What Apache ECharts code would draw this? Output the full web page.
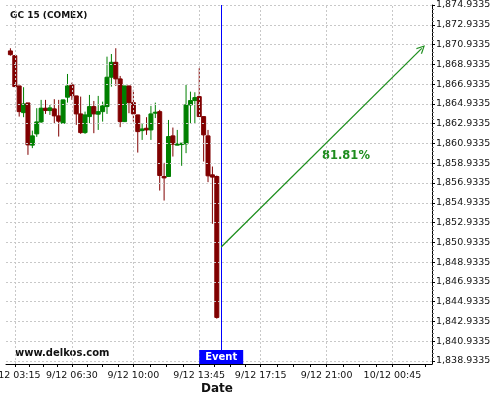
<!DOCTYPE html>
<html>
<head>
<meta charset="utf-8">
<title>GC 15 (COMEX)</title>
<script src="https://cdn.jsdelivr.net/npm/echarts@6/dist/echarts.min.js"></script>
<style>
	html, body { margin: 0; padding: 0; background: #fff; }
	#chart { width: 500px; height: 400px; }
</style>
</head>
<body>
<div id="chart"></div>
<script>
	// 15 minute candles
	var candleTimes = [
		'9/12 03:00', '9/12 03:15', '9/12 03:30', '9/12 03:45', '9/12 04:00', '9/12 04:15', '9/12 04:30', '9/12 04:45',
		'9/12 05:00', '9/12 05:15', '9/12 05:30', '9/12 05:45', '9/12 06:00', '9/12 06:15', '9/12 06:30', '9/12 06:45',
		'9/12 07:00', '9/12 07:15', '9/12 07:30', '9/12 07:45', '9/12 08:00', '9/12 08:15', '9/12 08:30', '9/12 08:45',
		'9/12 09:00', '9/12 09:15', '9/12 09:30', '9/12 09:45', '9/12 10:00', '9/12 10:15', '9/12 10:30', '9/12 10:45',
		'9/12 11:00', '9/12 11:15', '9/12 11:30', '9/12 11:45', '9/12 12:00', '9/12 12:15', '9/12 12:30', '9/12 12:45',
		'9/12 13:00', '9/12 13:15', '9/12 13:30', '9/12 13:45', '9/12 14:00', '9/12 14:15', '9/12 14:30', '9/12 14:45'
	]
	var openData = [
		1870.29, 1869.81, 1866.75, 1864.05, 1865.03, 1860.76, 1861.90, 1863.11, 1864.50, 1864.26,
		1864.43, 1863.72, 1862.98, 1865.61, 1866.85, 1865.74, 1863.92, 1862.03, 1863.65, 1864.66,
		1863.89, 1864.15, 1864.66, 1867.63, 1869.14, 1867.46, 1863.14, 1866.75, 1865.06, 1863.82,
		1862.23, 1862.47, 1862.30, 1863.99, 1864.15, 1857.59, 1857.59, 1861.70, 1860.76, 1860.82,
		1860.89, 1864.83, 1865.27, 1865.67, 1863.65, 1861.70, 1857.76, 1857.59
	]
	var closeData = [
		1869.91, 1866.68, 1864.15, 1864.93, 1860.79, 1861.70, 1863.11, 1864.50, 1864.26, 1864.53,
		1863.72, 1863.18, 1865.34, 1866.75, 1865.77, 1863.92, 1862.03, 1863.82, 1864.66, 1863.92,
		1864.15, 1864.73, 1867.63, 1869.14, 1867.46, 1863.14, 1866.75, 1865.06, 1863.92, 1862.13,
		1862.40, 1862.30, 1863.92, 1864.09, 1857.69, 1857.45, 1861.63, 1860.86, 1860.89, 1860.96,
		1864.83, 1865.27, 1865.57, 1863.65, 1861.80, 1857.66, 1857.53, 1843.34
	]
	var lowData = [
		1869.81, 1866.65, 1863.65, 1863.59, 1859.78, 1860.46, 1861.60, 1863.01, 1863.92, 1863.82,
		1862.98, 1861.63, 1862.91, 1865.06, 1865.34, 1862.81, 1861.90, 1861.90, 1862.98, 1861.97,
		1862.30, 1863.14, 1863.92, 1866.68, 1866.75, 1862.58, 1863.11, 1863.99, 1863.14, 1860.01,
		1861.29, 1861.80, 1861.29, 1863.50, 1856.17, 1855.16, 1857.55, 1859.61, 1860.76, 1858.67,
		1859.95, 1862.98, 1862.98, 1863.65, 1859.10, 1857.02, 1852.81, 1843.21
	]
	var highData = [
		1870.56, 1869.88, 1866.75, 1866.62, 1865.03, 1862.23, 1864.50, 1865.34, 1865.34, 1864.83,
		1865.41, 1865.34, 1865.34, 1867.96, 1867.08, 1865.74, 1865.67, 1864.15, 1865.84, 1865.23,
		1865.74, 1865.16, 1869.71, 1869.98, 1870.56, 1867.76, 1866.75, 1866.75, 1866.35, 1863.82,
		1862.98, 1863.59, 1864.73, 1865.06, 1864.33, 1858.97, 1863.31, 1862.54, 1862.30, 1860.96,
		1866.85, 1866.17, 1866.11, 1868.54, 1863.65, 1862.30, 1858.60, 1857.69
	]

	// axes
	var xTickLabels = ['9/12 03:15', '9/12 06:30', '9/12 10:00', '9/12 13:45', '9/12 17:15', '9/12 21:00', '10/12 00:45']
	var xRange = ['9/12 02:45', '10/12 03:00']
	var yTickLabels = [
		1838.9335, 1840.9335, 1842.9335, 1844.9335, 1846.9335, 1848.9335, 1850.9335,
		1852.9335, 1854.9335, 1856.9335, 1858.9335, 1860.9335, 1862.9335, 1864.9335,
		1866.9335, 1868.9335, 1870.9335, 1872.9335, 1874.9335
	]
	var yRange = [1838.63, 1874.9335]

	// event and projection
	var eventTime = '9/12 15:00'
	var arrowFrom = ['9/12 15:00', 1850.47]
	var arrowTo = ['10/12 02:25', 1870.55]
	var arrowText = '81.81%'

	// "9/12 03:15" -> minutes since 9/12 00:00
	function toMin(s) {
		var p = s.split(' ')
		var day = parseInt(p[0].split('/')[0], 10)
		var hm = p[1].split(':')
		return (day - 9) * 1440 + parseInt(hm[0], 10) * 60 + parseInt(hm[1], 10)
	}

	function fmtPrice(v) {
		var best = yTickLabels[0]
		yTickLabels.forEach(function (t) { if (Math.abs(t - v) < Math.abs(best - v)) best = t })
		var s = best.toFixed(4).split('.')
		return s[0].replace(/\B(?=(\d{3})+(?!\d))/g, ',') + '.' + s[1]
	}

	var xTicks = xTickLabels.map(toMin)
	// minor ticks: quarters of each label interval
	var xMinor = []
	for (var i = 0; i < xTicks.length; i++) {
		var a = xTicks[i]
		var b = i < xTicks.length - 1 ? xTicks[i + 1] : a + (a - xTicks[i - 1])
		for (var k = 1; k < 4; k++) xMinor.push(a + (b - a) * k / 4)
	}
	var yMinor = []
	for (var j = 0; j < yTickLabels.length - 1; j++) {
		for (var m = 1; m < 5; m++) yMinor.push(yTickLabels[j] + (yTickLabels[j + 1] - yTickLabels[j]) * m / 5)
	}

	var candleData = candleTimes.map(function (t, i) {
		return [toMin(t), openData[i], closeData[i], lowData[i], highData[i]]
	})

	var font = 'DejaVu Sans'
	var arrowHead = 'path://M5,0 L10,8 L9,9 L5,2.5 L1,9 L0,8 Z'

	// dashed grid as mark lines
	var gridMarks = []
	xTicks.forEach(function (v) { gridMarks.push({ xAxis: v }) })
	yTickLabels.forEach(function (v) { gridMarks.push({ yAxis: v }) })

	function renderCandle(params, api) {
		var t = api.value(0)
		var o = api.coord([t, api.value(1)])
		var c = api.coord([t, api.value(2)])
		var l = api.coord([t, api.value(3)])
		var h = api.coord([t, api.value(4)])
		var color = api.value(2) >= api.value(1) ? '#008000' : '#800000'
		var w = 4
		var top = Math.min(o[1], c[1])
		var bot = Math.max(o[1], c[1])
		return {
			type: 'group',
			children: [{
				type: 'line',
				shape: { x1: h[0], y1: h[1], x2: l[0], y2: l[1] },
				style: { stroke: color, lineWidth: 1 }
			}, {
				type: 'rect',
				shape: { x: o[0] - w / 2, y: top, width: w, height: Math.max(bot - top, 0.5) },
				style: { fill: color, stroke: color, lineWidth: 1 }
			}]
		}
	}

	var chart = echarts.init(document.getElementById('chart'))
	var option = {
		animation: false,
		grid: { left: 6, right: 68, top: 5, bottom: 36, outerBoundsMode: 'none', containLabel: false },
		xAxis: [{
			type: 'value',
			min: toMin(xRange[0]),
			max: toMin(xRange[1]),
			interval: 15,
			position: 'bottom',
			axisLine: { onZero: false, lineStyle: { color: '#000', width: 1 } },
			axisTick: { customValues: xTicks, length: 3, lineStyle: { color: '#000' } },
			axisLabel: {
				customValues: xTicks,
				margin: 7,
				color: '#111',
				fontFamily: font,
				fontSize: 9.5,
				formatter: function (v) {
					var idx = xTicks.indexOf(v)
					return idx >= 0 ? xTickLabels[idx] : ''
				}
			},
			splitLine: { show: false }
		}, {
			type: 'value',
			min: toMin(xRange[0]),
			max: toMin(xRange[1]),
			interval: 15,
			position: 'bottom',
			axisLine: { show: false, onZero: false },
			axisTick: { customValues: xMinor, length: 3, lineStyle: { color: '#000' } },
			axisLabel: { show: false },
			splitLine: { show: false }
		}],
		yAxis: [{
			type: 'value',
			position: 'right',
			min: yRange[0],
			max: yRange[1],
			interval: yRange[1] - yRange[0],
			axisLine: { show: true, onZero: false, lineStyle: { color: '#000', width: 1 } },
			axisTick: { show: true, customValues: yTickLabels, length: 3, lineStyle: { color: '#000' } },
			axisLabel: {
				customValues: yTickLabels,
				margin: 4,
				color: '#111',
				fontFamily: font,
				fontSize: 9.5,
				formatter: fmtPrice
			},
			splitLine: { show: false }
		}, {
			type: 'value',
			position: 'right',
			min: yRange[0],
			max: yRange[1],
			interval: yRange[1] - yRange[0],
			axisLine: { show: false, onZero: false },
			axisTick: { show: true, customValues: yMinor, length: 2, lineStyle: { color: '#777' } },
			axisLabel: { show: false },
			splitLine: { show: false }
		}],
		series: [{
			// grid
			type: 'line',
			z: 1,
			data: [],
			markLine: {
				silent: true,
				symbol: ['none', 'none'],
				label: { show: false },
				lineStyle: { color: '#c8c8c8', type: [2, 2], width: 1 },
				data: gridMarks
			}
		}, {
			// event line
			type: 'line',
			z: 3,
			data: [],
			markLine: {
				silent: true,
				symbol: ['none', 'none'],
				label: { show: false },
				lineStyle: { color: '#0000ff', type: 'solid', width: 1 },
				data: [{ xAxis: toMin(eventTime) }]
			}
		}, {
			// projection arrow
			type: 'line',
			z: 3,
			data: [],
			markLine: {
				silent: true,
				symbol: ['none', arrowHead],
				symbolSize: [8, 9],
				label: { show: false },
				lineStyle: { color: '#1f8f1f', type: 'solid', width: 1.3 },
				data: [[
					{ coord: [toMin(arrowFrom[0]), arrowFrom[1]] },
					{ coord: [toMin(arrowTo[0]), arrowTo[1]] }
				]]
			}
		}, {
			type: 'custom',
			z: 2,
			xAxisIndex: 0,
			yAxisIndex: 0,
			encode: { x: 0, y: [1, 2, 3, 4] },
			data: candleData,
			renderItem: renderCandle
		}]
	}
	chart.setOption(option)

	// event flag under the event line, arrow percentage and texts
	var ex = chart.convertToPixel({ xAxisIndex: 0 }, toMin(eventTime))
	chart.setOption({
		graphic: [
			{ type: 'text', x: 10, y: 15.5, style: { text: 'GC 15 (COMEX)', font: 'bold 9px ' + font, fill: '#111', verticalAlign: 'middle' } },
			{ type: 'text', x: 15, y: 353, style: { text: 'www.delkos.com', font: 'bold 10px ' + font, fill: '#111', verticalAlign: 'middle' } },
			{ type: 'text', x: 217, y: 389, style: { text: 'Date', font: 'bold 12px ' + font, fill: '#111', align: 'center', verticalAlign: 'middle' } },
			{ type: 'text', x: 322, y: 156, style: { text: arrowText, font: 'bold 11.5px ' + font, fill: '#1e8c1e', verticalAlign: 'middle' } },
			{ type: 'rect', z: 10, shape: { x: ex - 22, y: 350, width: 44, height: 14 }, style: { fill: '#0000ff' } },
			{ type: 'text', z: 11, x: ex, y: 357, style: { text: 'Event', font: 'bold 10px ' + font, fill: '#fff', align: 'center', verticalAlign: 'middle' } }
		]
	})
</script>
</body>
</html>
